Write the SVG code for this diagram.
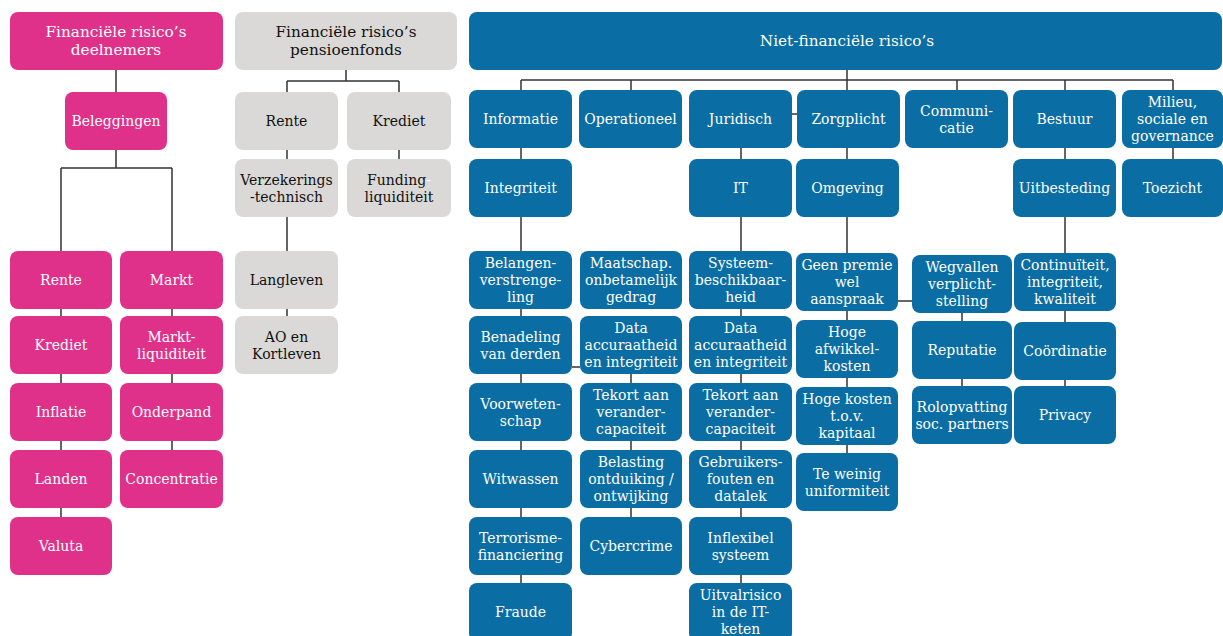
<svg xmlns="http://www.w3.org/2000/svg" width="1223" height="636" viewBox="0 0 1223 636">
<style>
.p{fill:#E0318A}
.g{fill:#DAD9D7}
.b{fill:#0A6DA3}
text{font-family:"DejaVu Serif","Liberation Serif",serif;font-size:14px;text-anchor:middle}
.w{fill:#fff}
.k{fill:#111}
.t{font-size:15.3px}
.c{fill:none;stroke:#333;stroke-width:1.5}
</style>
<rect width="1223" height="636" fill="#fff"/>
<g id="connectors" class="c">
<path d="M116,70V168M61,168H172M61,168V540M172,168V470"/>
<path d="M346,70V81M287,81H399M287,81V330M399,81V170"/>
<path d="M521,80H1173M847,70V470M521,80V600M631,80V90M957,80V90M1065,80V400M1173,80V170M741,148V600M631,340V530M962,290V400M792,114H797M572,367H580M898,301H912"/>
</g>
<g id="nodes">
<g id="p-title"><rect class="p" x="10" y="12" width="213" height="58" rx="8"/><text class="w t" x="116" y="37">Financiële risico’s</text><text class="w t" x="116" y="55">deelnemers</text></g>
<g id="p-beleggingen"><rect class="p" x="65" y="92" width="102" height="58" rx="8"/><text class="w" x="116" y="126">Beleggingen</text></g>
<g id="p-rente"><rect class="p" x="10" y="251" width="102" height="58" rx="8"/><text class="w" x="61" y="285">Rente</text></g>
<g id="p-krediet"><rect class="p" x="10" y="316" width="102" height="58" rx="8"/><text class="w" x="61" y="350">Krediet</text></g>
<g id="p-inflatie"><rect class="p" x="10" y="383" width="102" height="58" rx="8"/><text class="w" x="61" y="417">Inflatie</text></g>
<g id="p-landen"><rect class="p" x="10" y="450" width="102" height="58" rx="8"/><text class="w" x="61" y="484">Landen</text></g>
<g id="p-valuta"><rect class="p" x="10" y="517" width="102" height="58" rx="8"/><text class="w" x="61" y="551">Valuta</text></g>
<g id="p-markt"><rect class="p" x="120" y="251" width="103" height="58" rx="8"/><text class="w" x="171.5" y="285">Markt</text></g>
<g id="p-marktliquiditeit"><rect class="p" x="120" y="316" width="103" height="58" rx="8"/><text class="w" x="171.5" y="341.5">Markt-</text><text class="w" x="171.5" y="358.5">liquiditeit</text></g>
<g id="p-onderpand"><rect class="p" x="120" y="383" width="103" height="58" rx="8"/><text class="w" x="171.5" y="417">Onderpand</text></g>
<g id="p-concentratie"><rect class="p" x="120" y="450" width="103" height="58" rx="8"/><text class="w" x="171.5" y="484">Concentratie</text></g>
<g id="g-title"><rect class="g" x="235" y="12" width="222" height="58" rx="8"/><text class="k t" x="346" y="37">Financiële risico’s</text><text class="k t" x="346" y="55">pensioenfonds</text></g>
<g id="g-rente"><rect class="g" x="235" y="92" width="103" height="58" rx="8"/><text class="k" x="286.5" y="126">Rente</text></g>
<g id="g-krediet"><rect class="g" x="347" y="92" width="104" height="58" rx="8"/><text class="k" x="399" y="126">Krediet</text></g>
<g id="g-verzekeringstechnisch"><rect class="g" x="235" y="159" width="103" height="58" rx="8"/><text class="k" x="286.5" y="184.5">Verzekerings</text><text class="k" x="286.5" y="201.5">-technisch</text></g>
<g id="g-fundingliquiditeit"><rect class="g" x="347" y="159" width="104" height="58" rx="8"/><text class="k" x="399" y="184.5">Funding<tspan fill="#fff">-</tspan></text><text class="k" x="399" y="201.5">liquiditeit</text></g>
<g id="g-langleven"><rect class="g" x="235" y="251" width="103" height="58" rx="8"/><text class="k" x="286.5" y="285">Langleven</text></g>
<g id="g-ao"><rect class="g" x="235" y="316" width="103" height="58" rx="8"/><text class="k" x="286.5" y="341.5">AO en</text><text class="k" x="286.5" y="358.5">Kortleven</text></g>
<g id="b-title"><rect class="b" x="469" y="12" width="753" height="58" rx="8"/><text class="w t" x="847" y="46">Niet-financiële risico’s</text></g>
<g id="b-informatie"><rect class="b" x="469" y="90" width="103" height="58" rx="8"/><text class="w" x="520.5" y="124">Informatie</text></g>
<g id="b-operationeel"><rect class="b" x="579" y="90" width="103" height="58" rx="8"/><text class="w" x="630.5" y="124">Operationeel</text></g>
<g id="b-juridisch"><rect class="b" x="689" y="90" width="103" height="58" rx="8"/><text class="w" x="740.5" y="124">Juridisch</text></g>
<g id="b-zorgplicht"><rect class="b" x="797" y="90" width="103" height="58" rx="8"/><text class="w" x="848.5" y="124">Zorgplicht</text></g>
<g id="b-communicatie"><rect class="b" x="905" y="90" width="103" height="58" rx="8"/><text class="w" x="956.5" y="116">Communi-</text><text class="w" x="956.5" y="133">catie</text></g>
<g id="b-bestuur"><rect class="b" x="1013" y="90" width="103" height="58" rx="8"/><text class="w" x="1064.5" y="124">Bestuur</text></g>
<g id="b-milieu"><rect class="b" x="1122" y="90" width="101" height="58" rx="8"/><text class="w" x="1172.5" y="107">Milieu,</text><text class="w" x="1172.5" y="124">sociale en</text><text class="w" x="1172.5" y="141">governance</text></g>
<g id="b-integriteit"><rect class="b" x="469" y="159" width="103" height="58" rx="8"/><text class="w" x="520.5" y="193">Integriteit</text></g>
<g id="b-it"><rect class="b" x="689" y="159" width="103" height="58" rx="8"/><text class="w" x="740.5" y="193">IT</text></g>
<g id="b-omgeving"><rect class="b" x="796" y="159" width="103" height="58" rx="8"/><text class="w" x="847.5" y="193">Omgeving</text></g>
<g id="b-uitbesteding"><rect class="b" x="1013" y="159" width="103" height="58" rx="8"/><text class="w" x="1064.5" y="193">Uitbesteding</text></g>
<g id="b-toezicht"><rect class="b" x="1122" y="159" width="101" height="58" rx="8"/><text class="w" x="1172.5" y="193">Toezicht</text></g>
<g id="b-belangenverstrengeling"><rect class="b" x="469" y="251" width="103" height="58" rx="8"/><text class="w" x="520.5" y="268">Belangen-</text><text class="w" x="520.5" y="285">verstrenge-</text><text class="w" x="520.5" y="302">ling</text></g>
<g id="b-benadeling"><rect class="b" x="469" y="316" width="103" height="58" rx="8"/><text class="w" x="520.5" y="341.5">Benadeling</text><text class="w" x="520.5" y="358.5">van derden</text></g>
<g id="b-voorwetenschap"><rect class="b" x="469" y="383" width="103" height="58" rx="8"/><text class="w" x="520.5" y="408.5">Voorweten-</text><text class="w" x="520.5" y="425.5">schap</text></g>
<g id="b-witwassen"><rect class="b" x="469" y="450" width="103" height="58" rx="8"/><text class="w" x="520.5" y="484">Witwassen</text></g>
<g id="b-terrorisme"><rect class="b" x="469" y="517" width="103" height="58" rx="8"/><text class="w" x="520.5" y="542.5">Terrorisme-</text><text class="w" x="520.5" y="559.5">financiering</text></g>
<g id="b-fraude"><rect class="b" x="469" y="583" width="103" height="58" rx="8"/><text class="w" x="520.5" y="617">Fraude</text></g>
<g id="b-maatschap"><rect class="b" x="580" y="251" width="102" height="58" rx="8"/><text class="w" x="631" y="268">Maatschap.</text><text class="w" x="631" y="285">onbetamelijk</text><text class="w" x="631" y="302">gedrag</text></g>
<g id="b-data1"><rect class="b" x="580" y="316" width="102" height="58" rx="8"/><text class="w" x="631" y="333">Data</text><text class="w" x="631" y="350">accuraatheid</text><text class="w" x="631" y="367">en integriteit</text></g>
<g id="b-tekort1"><rect class="b" x="580" y="383" width="102" height="58" rx="8"/><text class="w" x="631" y="400">Tekort aan</text><text class="w" x="631" y="417">verander-</text><text class="w" x="631" y="434">capaciteit</text></g>
<g id="b-belasting"><rect class="b" x="580" y="450" width="102" height="58" rx="8"/><text class="w" x="631" y="467">Belasting</text><text class="w" x="631" y="484">ontduiking /</text><text class="w" x="631" y="501">ontwijking</text></g>
<g id="b-cybercrime"><rect class="b" x="580" y="517" width="102" height="58" rx="8"/><text class="w" x="631" y="551">Cybercrime</text></g>
<g id="b-systeem"><rect class="b" x="689" y="251" width="103" height="58" rx="8"/><text class="w" x="740.5" y="268">Systeem-</text><text class="w" x="740.5" y="285">beschikbaar-</text><text class="w" x="740.5" y="302">heid</text></g>
<g id="b-data2"><rect class="b" x="689" y="316" width="103" height="58" rx="8"/><text class="w" x="740.5" y="333">Data</text><text class="w" x="740.5" y="350">accuraatheid</text><text class="w" x="740.5" y="367">en integriteit</text></g>
<g id="b-tekort2"><rect class="b" x="689" y="383" width="103" height="58" rx="8"/><text class="w" x="740.5" y="400">Tekort aan</text><text class="w" x="740.5" y="417">verander-</text><text class="w" x="740.5" y="434">capaciteit</text></g>
<g id="b-gebruikers"><rect class="b" x="689" y="450" width="103" height="58" rx="8"/><text class="w" x="740.5" y="467">Gebruikers-</text><text class="w" x="740.5" y="484">fouten en</text><text class="w" x="740.5" y="501">datalek</text></g>
<g id="b-inflexibel"><rect class="b" x="689" y="517" width="103" height="58" rx="8"/><text class="w" x="740.5" y="542.5">Inflexibel</text><text class="w" x="740.5" y="559.5">systeem</text></g>
<g id="b-uitvalrisico"><rect class="b" x="689" y="583" width="103" height="58" rx="8"/><text class="w" x="740.5" y="600">Uitvalrisico</text><text class="w" x="740.5" y="617">in de IT-</text><text class="w" x="740.5" y="634">keten</text></g>
<g id="b-geenpremie"><rect class="b" x="796" y="253" width="102" height="58" rx="8"/><text class="w" x="847" y="270">Geen premie</text><text class="w" x="847" y="287">wel</text><text class="w" x="847" y="304">aanspraak</text></g>
<g id="b-afwikkelkosten"><rect class="b" x="796" y="320" width="102" height="58" rx="8"/><text class="w" x="847" y="337">Hoge</text><text class="w" x="847" y="354">afwikkel-</text><text class="w" x="847" y="371">kosten</text></g>
<g id="b-hogekosten"><rect class="b" x="796" y="387" width="102" height="58" rx="8"/><text class="w" x="847" y="404">Hoge kosten</text><text class="w" x="847" y="421">t.o.v.</text><text class="w" x="847" y="438">kapitaal</text></g>
<g id="b-uniformiteit"><rect class="b" x="796" y="453" width="102" height="58" rx="8"/><text class="w" x="847" y="478.5">Te weinig</text><text class="w" x="847" y="495.5">uniformiteit</text></g>
<g id="b-wegvallen"><rect class="b" x="912" y="255" width="100" height="58" rx="8"/><text class="w" x="962" y="272">Wegvallen</text><text class="w" x="962" y="289">verplicht-</text><text class="w" x="962" y="306">stelling</text></g>
<g id="b-reputatie"><rect class="b" x="912" y="321" width="100" height="58" rx="8"/><text class="w" x="962" y="355">Reputatie</text></g>
<g id="b-rolopvatting"><rect class="b" x="912" y="386" width="100" height="58" rx="8"/><text class="w" x="962" y="411.5">Rolopvatting</text><text class="w" x="962" y="428.5">soc. partners</text></g>
<g id="b-continuiteit"><rect class="b" x="1014" y="253" width="102" height="58" rx="8"/><text class="w" x="1065" y="270">Continuïteit,</text><text class="w" x="1065" y="287">integriteit,</text><text class="w" x="1065" y="304">kwaliteit</text></g>
<g id="b-coordinatie"><rect class="b" x="1014" y="322" width="102" height="58" rx="8"/><text class="w" x="1065" y="356">Coördinatie</text></g>
<g id="b-privacy"><rect class="b" x="1014" y="386" width="102" height="58" rx="8"/><text class="w" x="1065" y="420">Privacy</text></g>
</g>
</svg>
